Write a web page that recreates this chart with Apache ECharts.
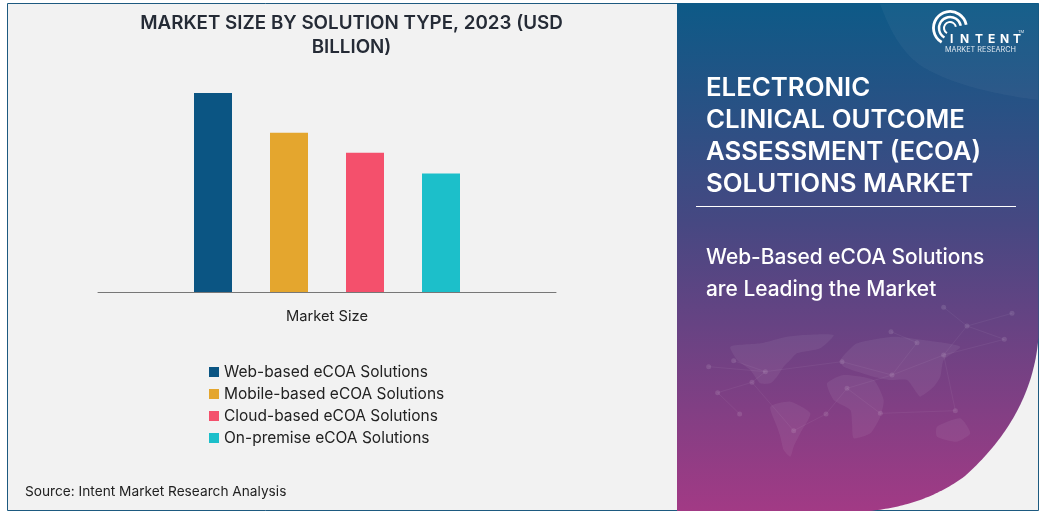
<!DOCTYPE html>
<html>
<head>
<meta charset="utf-8">
<title>eCOA Solutions Market</title>
<style>
    html, body { margin: 0; padding: 0; background: #fff; }
    #main { width: 1043px; height: 513px; }
</style>
<script src="https://cdn.jsdelivr.net/npm/echarts@6/dist/echarts.min.js"></script>
</head>
<body>
<div id="main"></div>
<script>
var categories = ['Market Size'];
var seriesNames = ['Web-based eCOA Solutions', 'Mobile-based eCOA Solutions', 'Cloud-based eCOA Solutions', 'On-premise eCOA Solutions'];
var webBased = [5];
var mobileBased = [4];
var cloudBased = [3.5];
var onPremise = [2.98];
var seriesColors = ['#0b5583', '#e4a62e', '#f4506c', '#1cbfca'];

var font = 'Inter';
var headingLines = ['ELECTRONIC', 'CLINICAL OUTCOME', 'ASSESSMENT (ECOA)', 'SOLUTIONS MARKET'];
var subLines = ['Web-Based eCOA Solutions', 'are Leading the Market'];
var logoLetters = [['I', 950], ['N', 960], ['T', 975], ['E', 988], ['N', 1000], ['T', 1013]];

// zoomed crop coords of the faint world map behind the right panel
var mapShapes = [
    [[160,380],[250,370],[330,350],[380,345],[470,345],[430,385],[360,400],[340,420],[320,440],[300,470],[280,490],[250,490],[220,450],[200,435],[180,420]],
    [[280,560],[340,545],[400,580],[370,640],[350,680],[340,710],[320,690],[310,650],[300,620]],
    [[450,490],[500,465],[590,480],[620,540],[610,590],[580,640],[530,655],[525,610],[520,570],[470,540]],
    [[490,420],[540,370],[650,350],[740,360],[850,380],[800,420],[790,470],[770,500],[730,530],[720,520],[690,480],[640,480],[590,470],[500,440]],
    [[780,620],[850,595],[880,640],[840,665],[780,650]]
];
var mapNodes = [[95,440],[170,422],[265,455],[225,487],[122,518],[188,582],[350,632],[447,582],[510,505],[610,580],[645,465],[800,405],[720,368],[835,572],[982,358],[870,318],[1005,280],[800,262],[495,425],[642,335]];
var mapLinks = [[0,2],[1,2],[2,3],[3,4],[4,5],[3,6],[6,7],[7,8],[8,9],[8,10],[10,11],[10,12],[11,13],[11,14],[14,15],[15,16],[15,17],[10,18],[12,19],[9,13],[18,2],[11,15]];

function mx(p) { return [677 + p[0] / 3, 220 + p[1] / 3]; }

// graphic has no svg path element, so curves become polygon points
function bezier(p0, p1, p2, p3) {
    var pts = [];
    for (var i = 0; i <= 40; i++) {
        var t = i / 40, u = 1 - t;
        pts.push([
            u * u * u * p0[0] + 3 * u * u * t * p1[0] + 3 * u * t * t * p2[0] + t * t * t * p3[0],
            u * u * u * p0[1] + 3 * u * u * t * p1[1] + 3 * u * t * t * p2[1] + t * t * t * p3[1]
        ]);
    }
    return pts;
}

var panelPoints = [[677, 3], [1038.5, 3]]
    .concat(bezier([1038.5, 337], [1034, 395], [1005, 440], [965, 476]))
    .concat(bezier([965, 476], [935, 498], [905, 507], [870, 511]))
    .concat([[677, 511]]);
var glowPoints = [[880, 4]]
    .concat(bezier([880, 4], [890, 30], [900, 50], [920, 65]))
    .concat(bezier([920, 65], [950, 85], [1000, 95], [1038, 100]))
    .concat([[1038, 4]]);

function buildMap() {
    var els = [];
    mapShapes.forEach(function (s) {
        els.push({ type: 'polygon', z: -5, shape: { points: s.map(mx), smooth: 0.2 }, style: { fill: 'rgba(255,255,255,0.06)' } });
    });
    mapLinks.forEach(function (l) {
        var a = mx(mapNodes[l[0]]), b = mx(mapNodes[l[1]]);
        els.push({ type: 'line', z: -5, shape: { x1: a[0], y1: a[1], x2: b[0], y2: b[1] }, style: { stroke: 'rgba(255,255,255,0.05)', lineWidth: 1 } });
    });
    mapNodes.forEach(function (n) {
        var c = mx(n);
        els.push({ type: 'circle', z: -5, shape: { cx: c[0], cy: c[1], r: 2.5 }, style: { fill: 'rgba(255,255,255,0.11)' } });
    });
    return els;
}

function buildLogo() {
    var els = [];
    var arcs = [[6, 2], [11, 2.4], [16.5, 2.8]];
    arcs.forEach(function (a) {
        els.push({ type: 'arc', z: -3, shape: { cx: 950, cy: 28, r: a[0], startAngle: -0.2, endAngle: 2.1, clockwise: false }, style: { stroke: '#fff', fill: null, lineWidth: a[1] } });
    });
    logoLetters.forEach(function (l) {
        els.push({ type: 'text', z: -2, x: l[1], y: 33, style: { text: l[0], fill: '#fff', font: '700 12px ' + font } });
    });
    els.push({ type: 'text', z: -2, x: 1018, y: 30, style: { text: 'TM', fill: '#dfe8f0', font: '4px ' + font } });
    els.push({ type: 'text', z: -2, x: 945, y: 46, style: { text: 'MARKET RESEARCH', fill: '#dfe8f0', font: '7.3px ' + font } });
    return els;
}

var graphics = [
    { type: 'rect', z: -10, shape: { x: 7.5, y: 3.5, width: 1031, height: 507 }, style: { fill: '#f2f2f2', stroke: '#1d5a80', lineWidth: 1 } },
    { type: 'polygon', z: -9, shape: { points: panelPoints },
      style: { fill: { type: 'linear', x: 0, y: 0, x2: 0, y2: 1, colorStops: [{ offset: 0, color: '#0d5a87' }, { offset: 0.43, color: '#464882' }, { offset: 1, color: '#a23a85' }] } } },
    { type: 'polygon', z: -8, shape: { points: glowPoints }, style: { fill: 'rgba(255,255,255,0.04)' } },
    { type: 'line', z: -2, shape: { x1: 696, y1: 206.5, x2: 1016, y2: 206.5 }, style: { stroke: '#fff', lineWidth: 1 } },
    { type: 'text', z: 5, x: 25, y: 485, style: { text: 'Source: Intent Market Research Analysis', fill: '#222', font: '13.7px ' + font } }
];
headingLines.forEach(function (t, i) {
    graphics.push({ type: 'text', z: 5, x: 706, y: 75 + i * 32, style: { text: t, fill: '#fff', font: '600 25.8px ' + font } });
});
subLines.forEach(function (t, i) {
    graphics.push({ type: 'text', z: 5, x: 706, y: 247 + i * 32, style: { text: t, fill: '#fff', font: '500 20.9px ' + font } });
});
graphics = graphics.concat(buildMap(), buildLogo());

var values = [webBased, mobileBased, cloudBased, onPremise];

var chart = echarts.init(document.getElementById('main'), null, { renderer: 'canvas' });
chart.setOption({
    backgroundColor: '#fff',
    animation: false,
    title: {
        text: 'MARKET SIZE BY SOLUTION TYPE, 2023 (USD\nBILLION)',
        left: 346.5, top: 6, textAlign: 'center',
        textStyle: { color: '#252b36', fontFamily: font, fontWeight: 600, fontSize: 18.8, lineHeight: 24 }
    },
    legend: {
        orient: 'vertical', left: 204, top: 358,
        itemWidth: 10, itemHeight: 10, itemGap: 4, icon: 'rect',
        textStyle: { color: '#222', fontFamily: font, fontSize: 15.5, lineHeight: 18 },
        data: seriesNames
    },
    grid: { left: 98, top: 93, width: 458, height: 199 },
    xAxis: {
        type: 'category', data: categories,
        axisTick: { show: false },
        axisLine: { lineStyle: { color: '#777', width: 1 } },
        axisLabel: { color: '#222', fontFamily: font, fontSize: 14.7, margin: 17 }
    },
    yAxis: { type: 'value', min: 0, max: 5, show: false, splitLine: { show: false } },
    series: seriesNames.map(function (name, i) {
        return { name: name, type: 'bar', data: values[i], barWidth: 38, barGap: '100%', itemStyle: { color: seriesColors[i] } };
    }),
    graphic: { elements: graphics }
});
</script>
</body>
</html>
